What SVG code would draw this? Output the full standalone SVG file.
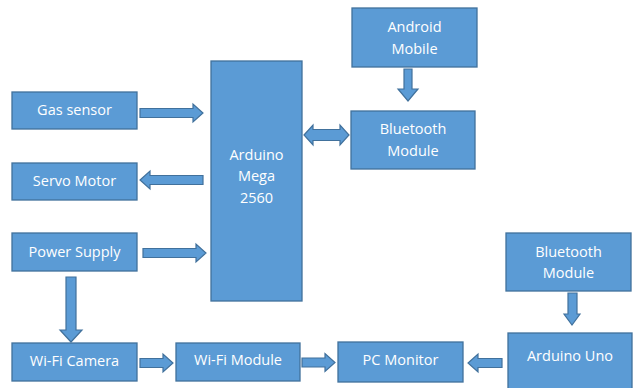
<svg xmlns="http://www.w3.org/2000/svg" width="633" height="388" viewBox="0 0 633 388">
<style>
.b{fill:#5B9BD5;stroke:#41719C;stroke-width:1.3}
.a{fill:#5B9BD5;stroke:#41719C;stroke-width:1.2;stroke-linejoin:miter}
.t{fill:#fff;font-family:"Open Sans","Liberation Sans",sans-serif;font-size:14.5px;text-anchor:middle;dominant-baseline:central}
</style>
<rect width="633" height="388" fill="#fff"/>
<g id="gas"><rect class="b" x="12" y="92" width="125" height="37"/><text class="t" x="74.5" y="109">Gas sensor</text></g>
<g id="servo"><rect class="b" x="12" y="163" width="125" height="37"/><text class="t" x="74.5" y="180">Servo Motor</text></g>
<g id="power"><rect class="b" x="12" y="233" width="125" height="38"/><text class="t" x="74.5" y="251">Power Supply</text></g>
<g id="mega"><rect class="b" x="211" y="61" width="91" height="240"/><text class="t" x="256.5" y="154">Arduino</text><text class="t" x="256.5" y="175">Mega</text><text class="t" x="256.5" y="197">2560</text></g>
<g id="android"><rect class="b" x="352" y="8" width="125" height="59"/><text class="t" x="414.5" y="26">Android</text><text class="t" x="414.5" y="48">Mobile</text></g>
<g id="bt1"><rect class="b" x="351" y="111" width="124" height="58"/><text class="t" x="413" y="128">Bluetooth</text><text class="t" x="413" y="150">Module</text></g>
<g id="bt2"><rect class="b" x="506" y="233" width="125" height="58"/><text class="t" x="568.5" y="251">Bluetooth</text><text class="t" x="568.5" y="272">Module</text></g>
<g id="uno"><rect class="b" x="508" y="333" width="124" height="60"/><text class="t" x="570" y="355">Arduino Uno</text></g>
<g id="cam"><rect class="b" x="12" y="343" width="125" height="38"/><text class="t" x="74.5" y="360">Wi-Fi Camera</text></g>
<g id="wifi"><rect class="b" x="176" y="343" width="124" height="38"/><text class="t" x="238" y="359">Wi-Fi Module</text></g>
<g id="pc"><rect class="b" x="338" y="342" width="125" height="40"/><text class="t" x="400.5" y="359">PC Monitor</text></g>
<g id="connectors">
<polygon class="a" points="140,108.5 193,108.5 193,104 203,113 193,122 193,117.5 140,117.5"/>
<polygon class="a" points="203,175.5 150,175.5 150,171 140,180 150,189 150,184.5 203,184.5"/>
<polygon class="a" points="143,248.5 196,248.5 196,244 206,253 196,262 196,257.5 143,257.5"/>
<polygon class="a" points="66,277 76,277 76,330 82,330 71,342 60,330 66,330"/>
<polygon class="a" points="140,358.5 163,358.5 163,354 173,363 163,372 163,367.5 140,367.5"/>
<polygon class="a" points="302,358 325,358 325,353.5 335,362.5 325,371.5 325,367 302,367"/>
<polygon class="a" points="502,358.5 478,358.5 478,354 468,363 478,372 478,367.5 502,367.5"/>
<polygon class="a" points="568,293 577,293 577,314 580,314 572,325 564,314 568,314"/>
<polygon class="a" points="404,69 412,69 412,89 418,89 408,101 398,89 404,89"/>
<polygon class="a" points="304,135 313,125 313,129.5 340,129.5 340,125 349,135 340,145 340,140.5 313,140.5 313,145"/>
</g>
</svg>
